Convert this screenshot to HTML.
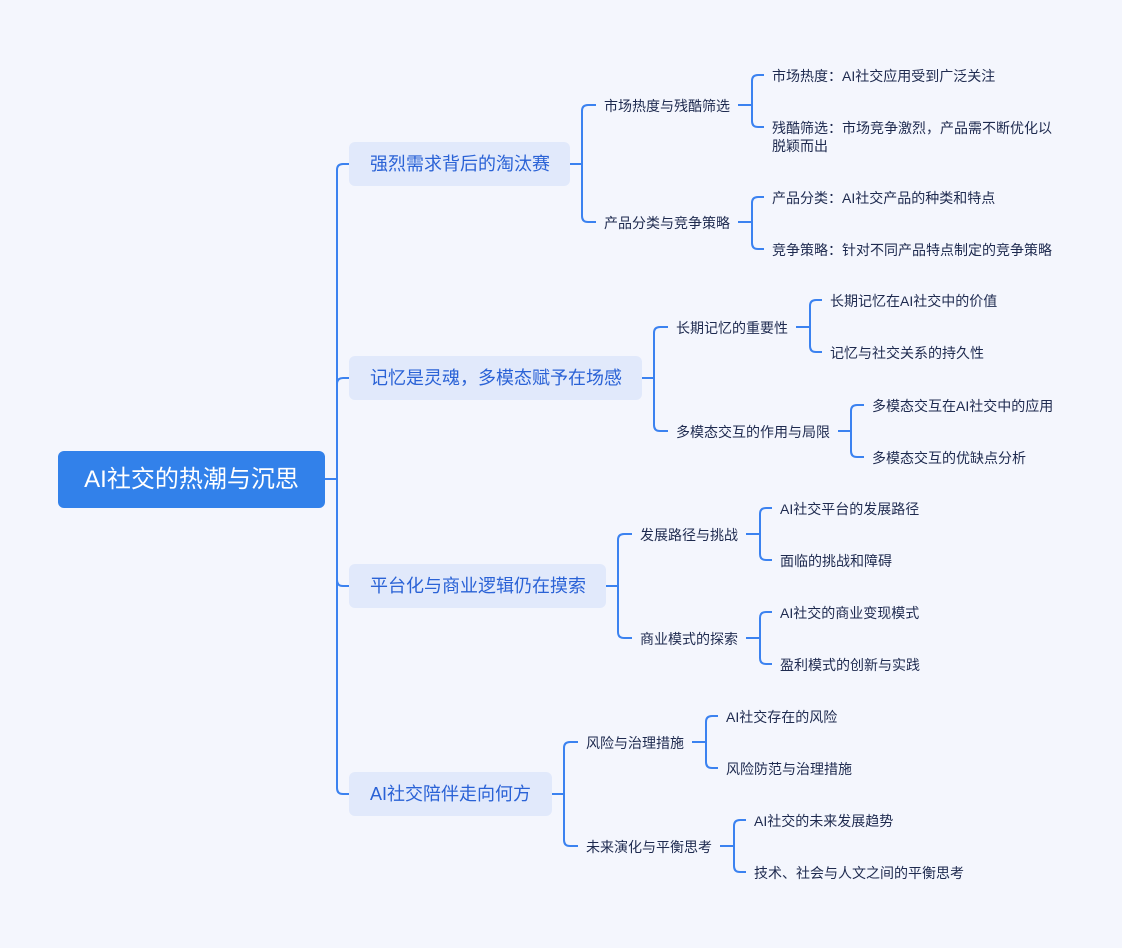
<!DOCTYPE html>
<html><head><meta charset="utf-8">
<style>
body{margin:0;width:1122px;height:948px;background:#f4f6fd;position:relative;overflow:hidden;font-family:"Liberation Sans","Noto Sans CJK SC",sans-serif;}
.t{position:absolute;white-space:nowrap;font-size:14px;line-height:18px;color:#1e2a4f;}
.n{position:absolute;height:44px;line-height:44px;background:#e1e9fb;border-radius:6px;color:#2a62d6;font-size:18px;text-align:left;padding-left:21px;box-sizing:border-box;white-space:nowrap;}
.root{position:absolute;left:58px;top:451px;width:267px;height:57px;line-height:57px;background:#3281ea;border-radius:6px;color:#fff;font-size:24px;text-align:center;}
svg{position:absolute;left:0;top:0}
</style></head><body>
<svg width="1122" height="948" fill="none" stroke="#3b82f0" stroke-width="2">
<path d="M325 479H337M337 479V170Q337 164 343 164H349M337 479V384Q337 378 343 378H349M337 479V580Q337 586 343 586H349M337 479V788Q337 794 343 794H349"/>
<path d="M570 164H582M582 164V111Q582 105 588 105H596M582 164V216Q582 222 588 222H596"/>
<path d="M738 105H752M752 105V81Q752 75 758 75H764M752 105V121Q752 127 758 127H764"/>
<path d="M738 222H752M752 222V203Q752 197 758 197H764M752 222V243Q752 249 758 249H764"/>
<path d="M642 378H654M654 378V333Q654 327 660 327H668M654 378V425Q654 431 660 431H668"/>
<path d="M796 327H810M810 327V306Q810 300 816 300H822M810 327V346Q810 352 816 352H822"/>
<path d="M838 431H851M851 431V411Q851 405 857 405H864M851 431V451Q851 457 857 457H864"/>
<path d="M606 586H618M618 586V540Q618 534 624 534H632M618 586V632Q618 638 624 638H632"/>
<path d="M746 534H760M760 534V514Q760 508 766 508H772M760 534V554Q760 560 766 560H772"/>
<path d="M746 638H760M760 638V618Q760 612 766 612H772M760 638V658Q760 664 766 664H772"/>
<path d="M552 794H564M564 794V748Q564 742 570 742H578M564 794V840Q564 846 570 846H578"/>
<path d="M692 742H706M706 742V722Q706 716 712 716H718M706 742V762Q706 768 712 768H718"/>
<path d="M720 846H734M734 846V826Q734 820 740 820H746M734 846V866Q734 872 740 872H746"/>
</svg>
<div class="root">AI社交的热潮与沉思</div>
<div class="n" style="left:349px;top:142px;width:221px">强烈需求背后的淘汰赛</div>
<div class="n" style="left:349px;top:356px;width:293px">记忆是灵魂，多模态赋予在场感</div>
<div class="n" style="left:349px;top:564px;width:257px">平台化与商业逻辑仍在摸索</div>
<div class="n" style="left:349px;top:772px;width:203px">AI社交陪伴走向何方</div>

<div class="t" style="left:604px;top:97px">市场热度与残酷筛选</div>
<div class="t" style="left:604px;top:214px">产品分类与竞争策略</div>
<div class="t" style="left:772px;top:67px">市场热度：AI社交应用受到广泛关注</div>
<div class="t" style="left:772px;top:119px">残酷筛选：市场竞争激烈，产品需不断优化以<br>脱颖而出</div>
<div class="t" style="left:772px;top:189px">产品分类：AI社交产品的种类和特点</div>
<div class="t" style="left:772px;top:241px">竞争策略：针对不同产品特点制定的竞争策略</div>

<div class="t" style="left:676px;top:319px">长期记忆的重要性</div>
<div class="t" style="left:676px;top:423px">多模态交互的作用与局限</div>
<div class="t" style="left:830px;top:292px">长期记忆在AI社交中的价值</div>
<div class="t" style="left:830px;top:344px">记忆与社交关系的持久性</div>
<div class="t" style="left:872px;top:397px">多模态交互在AI社交中的应用</div>
<div class="t" style="left:872px;top:449px">多模态交互的优缺点分析</div>

<div class="t" style="left:640px;top:526px">发展路径与挑战</div>
<div class="t" style="left:640px;top:630px">商业模式的探索</div>
<div class="t" style="left:780px;top:500px">AI社交平台的发展路径</div>
<div class="t" style="left:780px;top:552px">面临的挑战和障碍</div>
<div class="t" style="left:780px;top:604px">AI社交的商业变现模式</div>
<div class="t" style="left:780px;top:656px">盈利模式的创新与实践</div>

<div class="t" style="left:586px;top:734px">风险与治理措施</div>
<div class="t" style="left:586px;top:838px">未来演化与平衡思考</div>
<div class="t" style="left:726px;top:708px">AI社交存在的风险</div>
<div class="t" style="left:726px;top:760px">风险防范与治理措施</div>
<div class="t" style="left:754px;top:812px">AI社交的未来发展趋势</div>
<div class="t" style="left:754px;top:864px">技术、社会与人文之间的平衡思考</div>
</body></html>
